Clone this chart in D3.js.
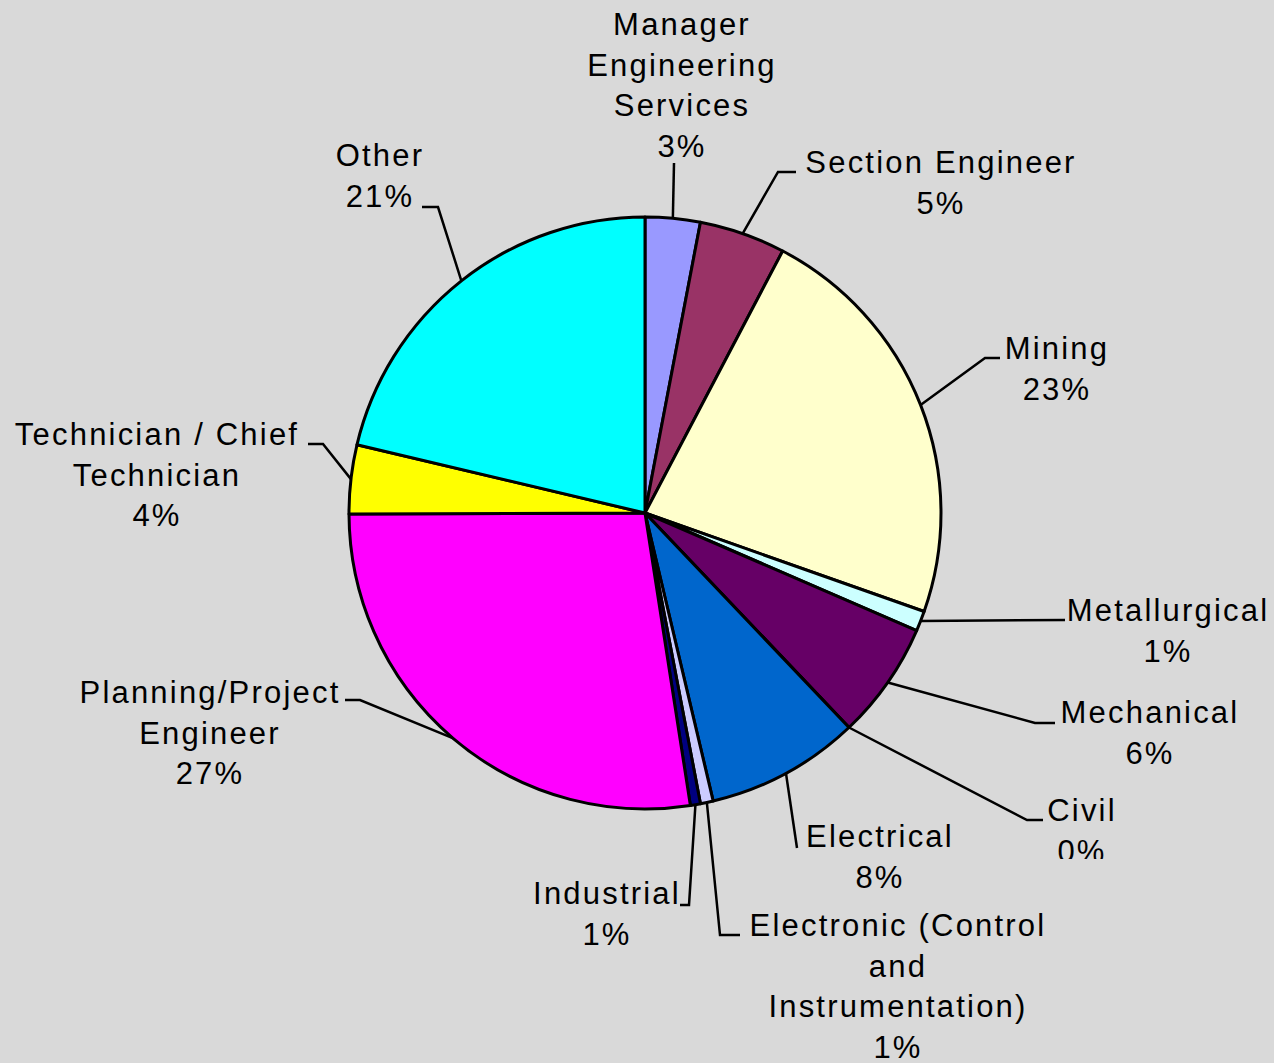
<!DOCTYPE html>
<html>
<head>
<meta charset="utf-8">
<script src="https://cdn.jsdelivr.net/npm/d3@7"></script>
<style>
  body { margin: 0; background: #d9d9d9; }
  svg { display: block; }
</style>
</head>
<body>
<div id="chart"></div>
<script>
// categories, clockwise from 12 o'clock
var categories = ["Manager\nEngineering\nServices", "Section Engineer", "Mining", "Metallurgical",
                  "Mechanical", "Civil", "Electrical", "Electronic (Control\nand\nInstrumentation)",
                  "Industrial", "Planning/Project\nEngineer", "Technician / Chief\nTechnician", "Other"];
var shares = [3.0, 4.7, 22.7, 1.1, 6.4, 0.0, 8.4, 0.7, 0.55, 27.4, 3.75, 21.3];
var colors = ["#9999ff", "#993366", "#ffffcc", "#ccffff", "#660066", "#ffffff", "#0066cc",
              "#ccccff", "#000080", "#ff00ff", "#ffff00", "#00ffff"];

// label layout: text centre, first line centre y, leader points after the slice edge
var labelLayout = [
  {x: 682, y: 24, pts: [[674, 163]]},
  {x: 941, y: 162, pts: [[778, 172], [796, 172]]},
  {x: 1057, y: 348, pts: [[985, 358], [1000, 358]]},
  {x: 1168, y: 610, pts: [[1065, 620]]},
  {x: 1150, y: 712, pts: [[1035, 723], [1055, 723]]},
  {x: 1082, y: 810, pts: [[1027, 820], [1043, 820]], clipY: 859},
  {x: 880, y: 836, pts: [[797, 848]]},
  {x: 898, y: 925, pts: [[720, 935], [740, 935]]},
  {x: 607, y: 893, pts: [[689, 905], [680, 905]]},
  {x: 210, y: 692, pts: [[360, 700], [345, 700]]},
  {x: 157, y: 434, pts: [[323, 444], [308, 444]]},
  {x: 380, y: 155, pts: [[438, 207], [422, 207]]}
];

var width = 1274, height = 1063;
var cx = 645, cy = 513, radius = 296;
var lineH = 40.5;

var svg = d3.select("#chart").append("svg")
            .attr("width", width)
            .attr("height", height);

svg.append("rect").attr("width", width).attr("height", height).style("fill", "#d9d9d9");

var total = d3.sum(shares);
var pie = d3.pie().sort(null).value(function(d) { return d; });
var arcs = pie(shares);
var arc = d3.arc().innerRadius(0).outerRadius(radius);

var g = svg.append("g").attr("transform", "translate(" + cx + "," + cy + ")");

g.selectAll("path")
 .data(arcs)
 .enter()
 .append("path")
 .attr("d", arc)
 .style("fill", function(d, i) { return colors[i]; })
 .style("stroke", "#000")
 .style("stroke-width", 3)
 .style("stroke-linejoin", "round");

// leader lines
var line = d3.line();
svg.selectAll("path.leader")
   .data(arcs)
   .enter()
   .append("path")
   .attr("class", "leader")
   .attr("d", function(d, i) {
     var a = (d.startAngle + d.endAngle) / 2;
     var start = [cx + radius * Math.sin(a), cy - radius * Math.cos(a)];
     return line([start].concat(labelLayout[i].pts));
   })
   .style("fill", "none")
   .style("stroke", "#000")
   .style("stroke-width", 2.5);

// labels
var defs = svg.append("defs");
arcs.forEach(function(d, i) {
  var lay = labelLayout[i];
  var lines = categories[i].split("\n");
  lines.push(Math.round(d.value / total * 100) + "%");
  var t = svg.append("text")
             .attr("text-anchor", "middle")
             .style("font-family", "'Liberation Sans', Arial, sans-serif")
             .style("font-size", "31px")
             .style("letter-spacing", "2.2px")
             .style("fill", "#000");
  if (lay.clipY) {
    defs.append("clipPath").attr("id", "clip" + i)
        .append("rect").attr("x", 0).attr("y", 0).attr("width", width).attr("height", lay.clipY);
    t.attr("clip-path", "url(#clip" + i + ")");
  }
  lines.forEach(function(s, k) {
    t.append("tspan")
     .attr("x", lay.x)
     .attr("y", lay.y + 11 + k * lineH)
     .text(s);
  });
});
</script>
</body>
</html>
